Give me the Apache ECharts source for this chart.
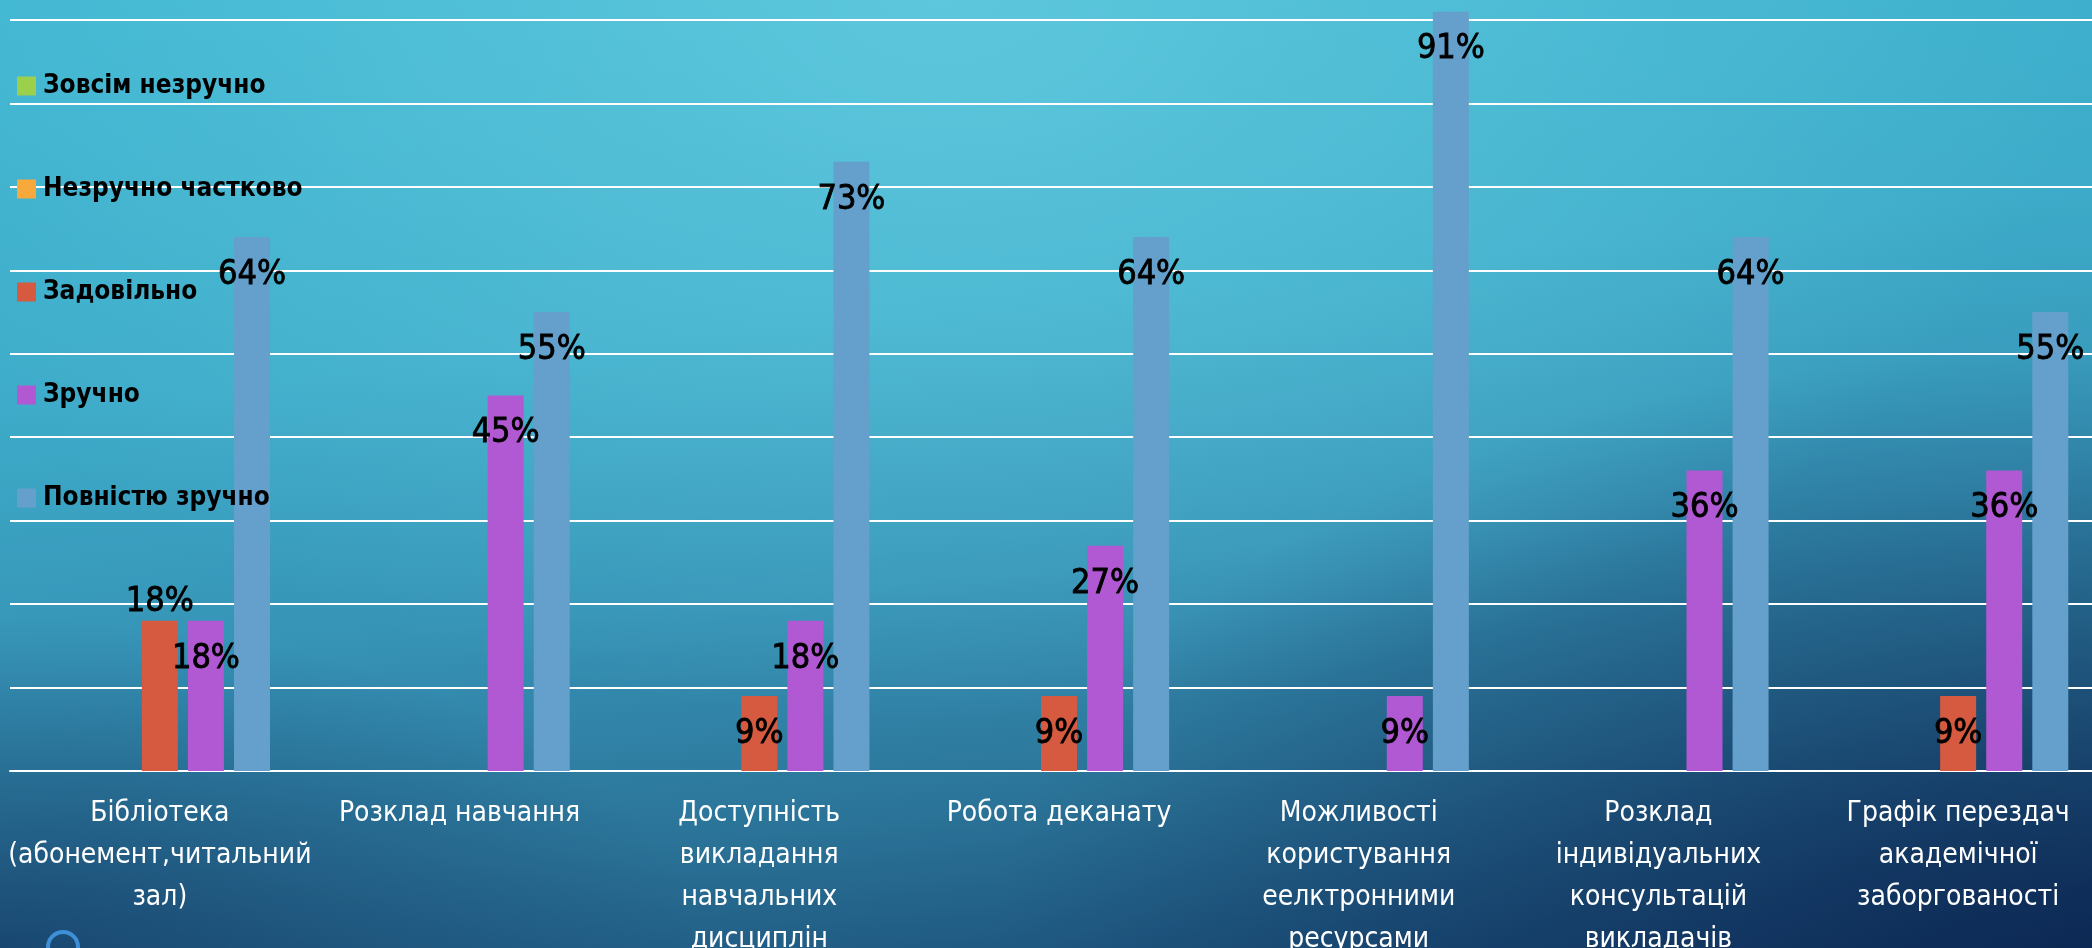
<!DOCTYPE html>
<html>
<head>
<meta charset="utf-8">
<script src="https://cdn.jsdelivr.net/npm/echarts@6/dist/echarts.min.js"></script>
<style>
  html, body { margin: 0; padding: 0; }
  #main {
    width: 2092px;
    height: 948px;
    background:
      radial-gradient(ellipse 1150px 720px at 45% 0%, rgba(106,208,226,0.7) 0%, rgba(106,208,226,0) 100%),
      radial-gradient(ellipse 1100px 600px at 100% 100%, rgba(8,28,72,0.7) 0%, rgba(8,28,72,0) 100%),
      radial-gradient(ellipse 700px 330px at 0% 100%, rgba(10,35,80,0.5) 0%, rgba(10,35,80,0) 100%),
      linear-gradient(174deg, #3eb5d1 0%, #3dabc9 35%, #3693b6 58%, #2b7398 78%, #164570 100%);
  }
</style>
</head>
<body>
<div id="main"></div>
<script>
// категорії (рядки розбиті так само, як на слайді)
var categories = [
    'Бібліотека\n(абонемент,читальний\nзал)',
    'Розклад навчання',
    'Доступність\nвикладання\nнавчальних\nдисциплін',
    'Робота деканату',
    'Можливості\nкористування\nеелктронними\nресурсами',
    'Розклад\nіндивідуальних\nконсультацій\nвикладачів',
    'Графік перездач\nакадемічної\nзаборгованості'
];

var seriesNames = ['Зовсім незручно', 'Незручно частково', 'Задовільно', 'Зручно', 'Повністю зручно'];

var zovsimNezruchno = [0, 0, 0, 0, 0, 0, 0];
var nezruchnoChastkovo = [0, 0, 0, 0, 0, 0, 0];
var zadovilno = [18, 0, 9, 9, 0, 0, 9];
var zruchno = [18, 45, 18, 27, 9, 36, 36];
var povnistuZruchno = [64, 55, 73, 64, 91, 64, 55];

var yTicks = [0, 10, 20, 30, 40, 50, 60, 70, 80, 90];

var colors = ['#9bcf4c', '#f9a83c', '#d55a40', '#b158d3', '#64a0cb'];

var labelFont = "'DejaVu Sans Condensed', 'Liberation Sans Narrow', 'Noto Sans', sans-serif";

var myChart = echarts.init(document.getElementById('main'), null, { renderer: 'canvas' });

function makeSeries(name, values, idx) {
    return {
        name: name,
        type: 'bar',
        barWidth: 36,
        barGap: '28%',
        clip: false,
        itemStyle: { color: colors[idx] },
        label: {
            show: true,
            position: 'insideTop',
            distance: 21,
            color: '#000',
            fontSize: 34,
            fontFamily: labelFont,
            textBorderColor: '#000',
            textBorderWidth: 0.8,
            formatter: function (p) {
                return p.value ? p.value + '%' : '';
            }
        },
        data: values.map(function (v, i) {
            // у першій групі підпис червоного стовпця стоїть над ним
            if (idx === 2 && i === 0) {
                return { value: v, label: { position: 'top', distance: 2 } };
            }
            return v;
        })
    };
}

var allValues = [zovsimNezruchno, nezruchnoChastkovo, zadovilno, zruchno, povnistuZruchno];

myChart.setOption({
    backgroundColor: 'transparent',
    animation: false,
    grid: {
        left: 10,
        right: -16,
        top: 20,
        bottom: 177,
        outerBoundsMode: 'none'
    },
    legend: {
        orient: 'vertical',
        left: 17,
        top: 72,
        padding: 0,
        itemWidth: 19,
        itemHeight: 19,
        itemGap: 75,
        icon: 'rect',
        data: seriesNames,
        textStyle: {
            color: '#000',
            fontWeight: 'bold',
            fontSize: 26,
            lineHeight: 28,
            fontFamily: labelFont,
            padding: [0, 0, 0, 2]
        }
    },
    xAxis: {
        type: 'category',
        data: categories,
        axisTick: { show: false },
        axisLine: { lineStyle: { color: '#ffffff', width: 2 } },
        axisLabel: {
            color: '#ffffff',
            fontSize: 28,
            lineHeight: 42,
            margin: 22,
            interval: 0,
            fontFamily: labelFont
        }
    },
    yAxis: {
        type: 'value',
        min: yTicks[0],
        max: yTicks[yTicks.length - 1],
        interval: 10,
        axisLabel: { show: false },
        axisLine: { show: false },
        axisTick: { show: false },
        splitLine: { lineStyle: { color: '#ffffff', width: 2 } }
    },
    graphic: [{
        type: 'circle',
        shape: { cx: 63, cy: 947, r: 15 },
        style: { fill: 'none', stroke: '#3d8fd8', lineWidth: 4 }
    }],
    series: seriesNames.map(function (n, i) { return makeSeries(n, allValues[i], i); })
});
</script>
</body>
</html>
